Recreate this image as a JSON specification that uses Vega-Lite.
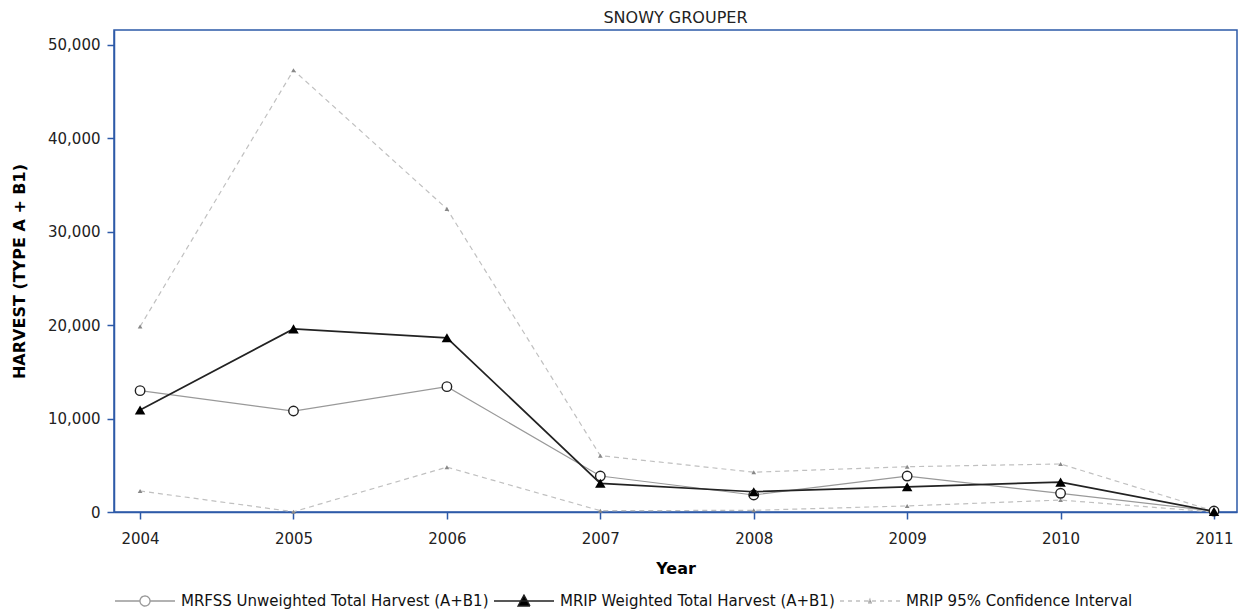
{
  "$schema": "https://vega.github.io/schema/vega-lite/v6.json",
  "autosize": {"type": "none"},
  "padding": {"left": 114, "top": 30, "right": 1, "bottom": 100},
  "width": 1123,
  "height": 482,
  "background": "white",
  "title": {"text": "SNOWY GROUPER", "fontSize": 16, "fontWeight": "normal", "font": "DejaVu Sans", "color": "#222", "offset": 4, "anchor": "middle"},
  "config": {
    "view": {"stroke": "#2d5aa8", "strokeWidth": 1.5},
    "axis": {"grid": false, "domainColor": "#2d5aa8", "tickColor": "#2d5aa8", "domainWidth": 1.5, "tickWidth": 1.5, "tickSize": 7, "labelFont": "DejaVu Sans", "labelFontSize": 15, "labelColor": "#222", "titleFont": "DejaVu Sans", "titleColor": "#000", "titleFontWeight": "bold"}
  },
  "data": {"values": [
    {"year": 2004, "series": "MRFSS Unweighted Total Harvest (A+B1)", "line": "MRFSS", "value": 12990},
    {"year": 2005, "series": "MRFSS Unweighted Total Harvest (A+B1)", "line": "MRFSS", "value": 10810},
    {"year": 2006, "series": "MRFSS Unweighted Total Harvest (A+B1)", "line": "MRFSS", "value": 13420},
    {"year": 2007, "series": "MRFSS Unweighted Total Harvest (A+B1)", "line": "MRFSS", "value": 3850},
    {"year": 2008, "series": "MRFSS Unweighted Total Harvest (A+B1)", "line": "MRFSS", "value": 1820},
    {"year": 2009, "series": "MRFSS Unweighted Total Harvest (A+B1)", "line": "MRFSS", "value": 3850},
    {"year": 2010, "series": "MRFSS Unweighted Total Harvest (A+B1)", "line": "MRFSS", "value": 2000},
    {"year": 2011, "series": "MRFSS Unweighted Total Harvest (A+B1)", "line": "MRFSS", "value": 100},
    {"year": 2004, "series": "MRIP Weighted Total Harvest (A+B1)", "line": "MRIP", "value": 10920},
    {"year": 2005, "series": "MRIP Weighted Total Harvest (A+B1)", "line": "MRIP", "value": 19600},
    {"year": 2006, "series": "MRIP Weighted Total Harvest (A+B1)", "line": "MRIP", "value": 18650},
    {"year": 2007, "series": "MRIP Weighted Total Harvest (A+B1)", "line": "MRIP", "value": 3070},
    {"year": 2008, "series": "MRIP Weighted Total Harvest (A+B1)", "line": "MRIP", "value": 2170},
    {"year": 2009, "series": "MRIP Weighted Total Harvest (A+B1)", "line": "MRIP", "value": 2700},
    {"year": 2010, "series": "MRIP Weighted Total Harvest (A+B1)", "line": "MRIP", "value": 3200},
    {"year": 2011, "series": "MRIP Weighted Total Harvest (A+B1)", "line": "MRIP", "value": 60},
    {"year": 2004, "series": "MRIP 95% Confidence Interval", "line": "Upper", "value": 19850},
    {"year": 2005, "series": "MRIP 95% Confidence Interval", "line": "Upper", "value": 47300},
    {"year": 2006, "series": "MRIP 95% Confidence Interval", "line": "Upper", "value": 32450},
    {"year": 2007, "series": "MRIP 95% Confidence Interval", "line": "Upper", "value": 6030},
    {"year": 2008, "series": "MRIP 95% Confidence Interval", "line": "Upper", "value": 4260},
    {"year": 2009, "series": "MRIP 95% Confidence Interval", "line": "Upper", "value": 4850},
    {"year": 2010, "series": "MRIP 95% Confidence Interval", "line": "Upper", "value": 5140},
    {"year": 2011, "series": "MRIP 95% Confidence Interval", "line": "Upper", "value": 100},
    {"year": 2004, "series": "MRIP 95% Confidence Interval", "line": "Lower", "value": 2250},
    {"year": 2005, "series": "MRIP 95% Confidence Interval", "line": "Lower", "value": 30},
    {"year": 2006, "series": "MRIP 95% Confidence Interval", "line": "Lower", "value": 4800},
    {"year": 2007, "series": "MRIP 95% Confidence Interval", "line": "Lower", "value": 140},
    {"year": 2008, "series": "MRIP 95% Confidence Interval", "line": "Lower", "value": 180},
    {"year": 2009, "series": "MRIP 95% Confidence Interval", "line": "Lower", "value": 650},
    {"year": 2010, "series": "MRIP 95% Confidence Interval", "line": "Lower", "value": 1280},
    {"year": 2011, "series": "MRIP 95% Confidence Interval", "line": "Lower", "value": 0}
  ]},
  "encoding": {
    "x": {"field": "year", "type": "quantitative", "scale": {"domain": [2003.83, 2011.15], "nice": false, "zero": false},
      "axis": {"values": [2004, 2005, 2006, 2007, 2008, 2009, 2010, 2011], "format": "d", "title": "Year", "titleFontSize": 16, "labelPadding": 12, "titlePadding": 14}},
    "y": {"field": "value", "type": "quantitative", "scale": {"domain": [0, 51600], "nice": false},
      "axis": {"values": [0, 10000, 20000, 30000, 40000, 50000], "format": ",.0f", "title": "HARVEST (TYPE A + B1)", "titleFontSize": 16, "labelPadding": 7, "titlePadding": 20}}
  },
  "layer": [
    {
      "transform": [{"filter": "datum.line === 'Upper' || datum.line === 'Lower'"}],
      "mark": {"type": "line", "strokeDash": [5, 4], "strokeWidth": 1.2},
      "encoding": {
        "detail": {"field": "line"},
        "color": {"field": "series", "type": "nominal",
          "scale": {"domain": ["MRFSS Unweighted Total Harvest (A+B1)", "MRIP Weighted Total Harvest (A+B1)", "MRIP 95% Confidence Interval"], "range": ["#999999", "#222222", "#c0c0c0"]},
          "legend": {"title": null, "orient": "bottom", "direction": "horizontal", "symbolSize": 400, "labelFont": "DejaVu Sans", "labelFontSize": 15, "labelColor": "#111", "labelLimit": 0, "columnPadding": 2, "labelOffset": 45, "offset": 14, "padding": 0,
            "encode": {"symbols": {"update": {
              "shape": {"signal": "datum.value === 'MRFSS Unweighted Total Harvest (A+B1)' ? 'M-1,0H1.5M2.5,0H5M2.5,0A0.5,0.5,0,1,1,1.5,0A0.5,0.5,0,1,1,2.5,0' : datum.value === 'MRIP Weighted Total Harvest (A+B1)' ? 'M-1,0H5M1.4,0.5L2.6,0.5L2,-0.6Z' : 'M-1,0H5M1.8,0.2L2.2,0.2L2,-0.2Z'"},
              "fill": {"signal": "datum.value === 'MRFSS Unweighted Total Harvest (A+B1)' ? 'white' : datum.value === 'MRIP Weighted Total Harvest (A+B1)' ? 'black' : '#999999'"},
              "stroke": {"signal": "datum.value === 'MRFSS Unweighted Total Harvest (A+B1)' ? '#555555' : datum.value === 'MRIP Weighted Total Harvest (A+B1)' ? 'black' : '#bbbbbb'"},
              "strokeDash": {"signal": "datum.value === 'MRIP 95% Confidence Interval' ? [4, 4] : [1, 0]"},
              "strokeWidth": {"value": 1.3},
              "opacity": {"value": 1},
              "fillOpacity": {"value": 1}
            }}}}
        }
      }
    },
    {
      "transform": [{"filter": "datum.line === 'MRFSS'"}],
      "mark": {"type": "line", "strokeWidth": 1.2},
      "encoding": {"color": {"field": "series", "type": "nominal"}}
    },
    {
      "transform": [{"filter": "datum.line === 'MRIP'"}],
      "mark": {"type": "line", "strokeWidth": 1.7},
      "encoding": {"color": {"field": "series", "type": "nominal"}}
    },
    {
      "transform": [{"filter": "datum.line === 'Upper' || datum.line === 'Lower'"}],
      "mark": {"type": "point", "shape": "triangle-up", "filled": true, "color": "#888888", "size": 22, "opacity": 1}
    },
    {
      "transform": [{"filter": "datum.line === 'MRFSS'"}],
      "mark": {"type": "point", "shape": "circle", "filled": true, "fill": "white", "stroke": "#222222", "strokeWidth": 1.4, "size": 90, "opacity": 1}
    },
    {
      "transform": [{"filter": "datum.line === 'MRIP'"}],
      "mark": {"type": "point", "shape": "triangle-up", "filled": true, "color": "black", "size": 110, "opacity": 1}
    }
  ]
}
